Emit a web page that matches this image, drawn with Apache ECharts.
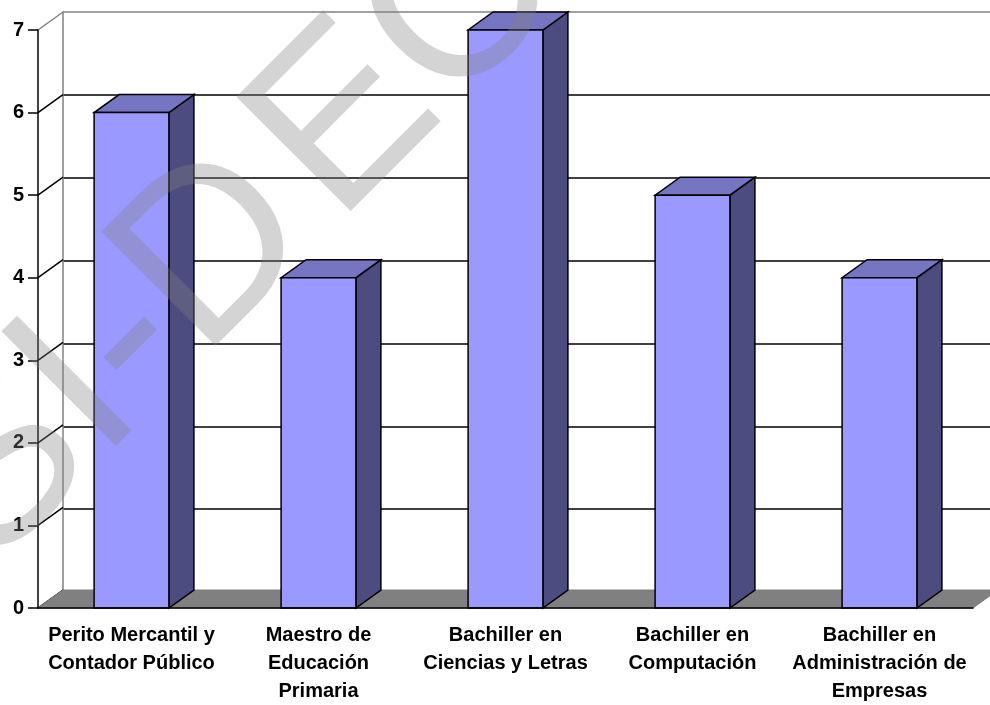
<!DOCTYPE html>
<html>
<head>
<meta charset="utf-8">
<script src="https://cdn.jsdelivr.net/npm/echarts@6/dist/echarts.min.js"></script>
<style>
  html, body { margin: 0; padding: 0; background: #ffffff; }
  #chart { width: 990px; height: 705px; }
</style>
</head>
<body>
<div id="chart"></div>
<script>
// Carreras cursadas (conteo por carrera)
const categories = [
  'Perito Mercantil y\nContador Público',
  'Maestro de\nEducación\nPrimaria',
  'Bachiller en\nCiencias y Letras',
  'Bachiller en\nComputación',
  'Bachiller en\nAdministración de\nEmpresas'
];
const values = [6, 4, 7, 5, 4];
const yTicks = [0, 1, 2, 3, 4, 5, 6, 7];
const watermarkParts = ['SI-D', 'EC'];

// Pseudo-3D depth of the plot box (screen pixels)
const DEPTH_X = 25;
const DEPTH_Y = -18;
const BAR_RATIO = 0.4;
const FONT = '"Liberation Sans", Arial, sans-serif';

const FRONT = '#9999ff';
const TOP = '#7575c2';
const SIDE = '#4c4c80';

const chart = echarts.init(document.getElementById('chart'), null, { renderer: 'canvas' });

function poly(points, fill) {
  return {
    type: 'polygon',
    shape: { points: points },
    style: { fill: fill, stroke: '#000000', lineWidth: 1.5, lineJoin: 'miter' }
  };
}

// Left side wall: diagonal from each tick on the front axis to the back wall
function renderSideWall(params, api) {
  const v = api.value(1);
  const p = api.coord([0, v]);
  const band = api.size([1, 0])[0];
  const x0 = p[0] - band / 2;
  const top = v === yTicks[yTicks.length - 1];
  return {
    type: 'line',
    shape: { x1: x0, y1: p[1], x2: x0 + DEPTH_X, y2: p[1] + DEPTH_Y },
    style: { stroke: top ? '#808080' : '#000000', lineWidth: 1.5 }
  };
}

// Gray floor under the columns
function renderFloor(params, api) {
  const p = api.coord([0, 0]);
  const band = api.size([1, 0])[0];
  const xl = p[0] - band / 2;
  const xr = xl + band * categories.length;
  const y = p[1];
  return {
    type: 'polygon',
    shape: { points: [[xl, y], [xr, y], [xr + DEPTH_X, y + DEPTH_Y], [xl + DEPTH_X, y + DEPTH_Y]] },
    style: { fill: '#808080', stroke: '#808080', lineWidth: 1 }
  };
}

// 3D column: right side face, top face and front face
function renderColumn(params, api) {
  const i = api.value(0);
  const v = api.value(1);
  const base = api.coord([i, 0]);
  const head = api.coord([i, v]);
  const w = api.size([1, 0])[0] * BAR_RATIO;
  const x0 = base[0] - w / 2;
  const x1 = x0 + w;
  const yb = base[1];
  const yt = head[1];
  return {
    type: 'group',
    children: [
      poly([[x1, yt], [x1 + DEPTH_X, yt + DEPTH_Y], [x1 + DEPTH_X, yb + DEPTH_Y], [x1, yb]], SIDE),
      poly([[x0, yt], [x1, yt], [x1 + DEPTH_X, yt + DEPTH_Y], [x0 + DEPTH_X, yt + DEPTH_Y]], TOP),
      poly([[x0, yt], [x1, yt], [x1, yb], [x0, yb]], FRONT)
    ]
  };
}

const gridColors = yTicks.map((v, k) => (k === yTicks.length - 1 ? '#808080' : '#000000'));

// Translucent watermark lettering, drawn on its own layer above the columns
function watermarkText(text, x) {
  return {
    type: 'text', x: x, y: 0, z: 100, zlevel: 1,
    style: {
      text: text,
      font: 'normal 235px ' + FONT,
      fill: 'rgba(128,128,128,0.34)',
      align: 'left', verticalAlign: 'middle',
      textAlign: 'left', textVerticalAlign: 'middle'
    }
  };
}

const option = {
  animation: false,
  backgroundColor: '#ffffff',
  grid: [
    { left: 38, right: 17, top: 30, bottom: 95 },   // front plane
    { left: 63, right: -8, top: 12, bottom: 113 }   // back wall
  ],
  xAxis: [
    {
      type: 'category', gridIndex: 0, data: categories, z: 5,
      axisLine: { lineStyle: { color: '#000000', width: 1.5 } },
      axisTick: { length: 10, lineStyle: { color: '#000000', width: 1.5 } },
      axisLabel: {
        margin: 13, color: '#000000', fontFamily: FONT, fontWeight: 'bold',
        fontSize: 20, lineHeight: 28, interval: 0, align: 'center'
      },
      splitLine: { show: false }
    },
    { type: 'category', gridIndex: 1, data: categories, show: false }
  ],
  yAxis: [
    {
      type: 'value', gridIndex: 0, min: 0, max: 7, interval: 1, z: 5,
      axisLine: { show: true, lineStyle: { color: '#000000', width: 1.5 } },
      axisTick: { show: true, length: 10, lineStyle: { color: '#000000', width: 1.5 } },
      axisLabel: { margin: 14, color: '#000000', fontFamily: FONT, fontWeight: 'bold', fontSize: 20 },
      splitLine: { show: false }
    },
    {
      type: 'value', gridIndex: 1, min: 0, max: 7, interval: 1,
      axisLine: { show: true, lineStyle: { color: '#808080', width: 1.5 } },
      axisTick: { show: false },
      axisLabel: { show: false },
      splitLine: { show: true, lineStyle: { color: gridColors, width: 1.5 } }
    }
  ],
  series: [
    {
      type: 'custom', xAxisIndex: 0, yAxisIndex: 0, z: 1,
      renderItem: renderSideWall,
      data: yTicks.map(v => [0, v])
    },
    {
      type: 'custom', xAxisIndex: 0, yAxisIndex: 0, z: 2,
      renderItem: renderFloor,
      data: [[0, 0]]
    },
    {
      type: 'custom', xAxisIndex: 0, yAxisIndex: 0, z: 3,
      renderItem: renderColumn,
      data: values.map((v, i) => [i, v])
    }
  ],
  graphic: {
    zlevel: 1,
    z: 100,
    elements: [
      {
        type: 'group', x: 231, y: 239, rotation: Math.PI / 4, z: 100, zlevel: 1, silent: true,
        children: [
          watermarkText(watermarkParts[0], -406),
          watermarkText(watermarkParts[1], 85)
        ]
      }
    ]
  }
};

chart.setOption(option);
</script>
</body>
</html>
